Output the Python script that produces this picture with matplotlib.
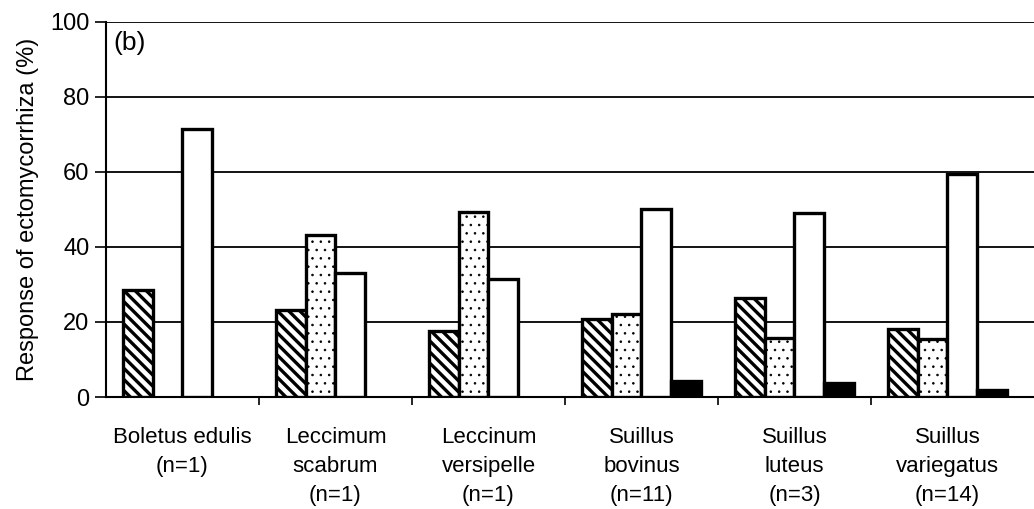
import matplotlib
matplotlib.use("Agg")
import matplotlib.pyplot as plt
import numpy as np

plt.rcParams['font.family'] = ['Liberation Sans', 'DejaVu Sans']
plt.rcParams['hatch.linewidth'] = 2.4

categories = ["Boletus edulis\n(n=1)", "Leccimum\nscabrum\n(n=1)", "Leccinum\nversipelle\n(n=1)",
              "Suillus\nbovinus\n(n=11)", "Suillus\nluteus\n(n=3)", "Suillus\nvariegatus\n(n=14)"]
hatched = [28.5, 23.2, 17.5, 20.8, 26.5, 18.0]
dotted = [0, 43.2, 49.4, 22.0, 15.8, 15.5]
white = [71.5, 33.0, 31.5, 50.0, 49.0, 59.5]
black = [0, 0, 0, 4.3, 3.7, 2.0]

fig = plt.figure(figsize=(10.34, 5.09), dpi=100)
ax = fig.add_axes([0.1025, 0.22, 0.8975, 0.737])

x = np.arange(len(categories))
w = 0.193
# hatched series
for p, v in zip(x - 1.5 * w, hatched):
    if v > 0:
        ax.bar(p, v, w, color='white', edgecolor='black', linewidth=2.4, hatch='\\\\\\', zorder=3)
# dotted series
for p, v in zip(x - 0.5 * w, dotted):
    if v > 0:
        bb = ax.bar(p, v, w, color='white', edgecolor='black', linewidth=2.4, hatch='..', zorder=3)
        for r in bb:
            if hasattr(r, 'set_hatch_linewidth'):
                r.set_hatch_linewidth(0.6)
# white series
for p, v in zip(x + 0.5 * w, white):
    if v > 0:
        ax.bar(p, v, w, color='white', edgecolor='black', linewidth=2.4, zorder=3)
# black series
for p, v in zip(x + 1.5 * w, black):
    if v > 0:
        ax.bar(p, v, w, color='black', edgecolor='black', linewidth=2.4, zorder=3)

ax.set_xlim(-0.5, 5.5 + 10 / 153)
ax.set_ylim(0, 100)
ax.set_yticks([0, 20, 40, 60, 80, 100])
ax.tick_params(axis='y', labelsize=17, length=8, width=1.2, direction='out', pad=4)
ax.set_xticks(np.arange(0.5, 5.5, 1))
ax.set_xticklabels([])
ax.tick_params(axis='x', length=6, width=1.2, direction='out')
for xi, lab in zip(x, categories):
    ax.text(xi, -8, lab, ha='center', va='top', fontsize=16, linespacing=1.5,
            transform=ax.transData)
ax.grid(axis='y', color='black', linewidth=1.3, zorder=0)
ax.set_axisbelow(True)
ax.spines['top'].set_visible(False)
ax.spines['right'].set_visible(False)
ax.spines['left'].set_linewidth(1.5)
ax.spines['bottom'].set_linewidth(1.5)
ax.set_ylabel("Response of ectomycorrhiza (%)", fontsize=17, labelpad=8)
ax.text(0.008, 0.975, "(b)", transform=ax.transAxes, fontsize=19, ha='left', va='top')

fig.savefig("out.png", dpi=100)
